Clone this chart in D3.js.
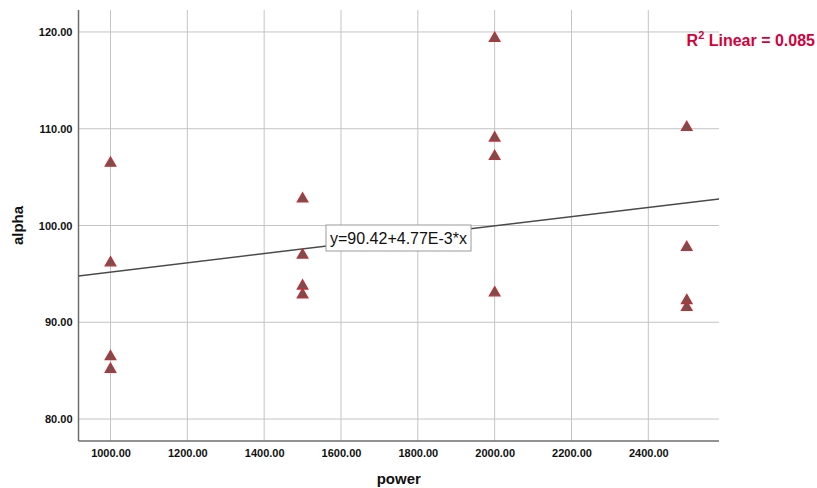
<!DOCTYPE html>
<html>
<head>
<meta charset="utf-8">
<script src="https://cdn.jsdelivr.net/npm/d3@7"></script>
<style>
  body { margin: 0; background: #fff; }
  svg text { font-family: "Liberation Sans", Arial, sans-serif; }
</style>
</head>
<body>
<div id="chart"></div>
<script>
// data
var powerValues = [1000, 1000, 1000, 1000, 1500, 1500, 1500, 1500, 2000, 2000, 2000, 2000, 2500, 2500, 2500, 2500];
var alphaValues = [106.5, 96.2, 86.5, 85.2, 102.8, 97.0, 93.8, 92.9, 119.4, 109.1, 107.2, 93.1, 110.2, 97.8, 92.3, 91.6];
var xTicks = [1000, 1200, 1400, 1600, 1800, 2000, 2200, 2400];
var yTicks = [80, 90, 100, 110, 120];
var fitIntercept = 90.42;
var fitSlope = 4.77e-3;
var fitLabel = "y=90.42+4.77E-3*x";
var r2Label = "0.085";

var width = 817, height = 488;
var margin = { top: 10, right: 98, bottom: 47, left: 78.5 };
var w = width - margin.left - margin.right;
var h = height - margin.top - margin.bottom;

var svg = d3.select('#chart').append('svg')
    .attr('width', width)
    .attr('height', height);

var xScale = d3.scaleLinear().domain([916.7, 2584]).range([0, w]);
var yScale = d3.scaleLinear().domain([77.73, 122.27]).range([h, 0]);

var g = svg.append('g')
    .attr('transform', 'translate(' + margin.left + ',' + margin.top + ')');

// grid lines
g.selectAll('.vgrid').data(xTicks).enter().append('line')
    .attr('class', 'vgrid')
    .attr('x1', function (d) { return xScale(d); })
    .attr('x2', function (d) { return xScale(d); })
    .attr('y1', 0).attr('y2', h)
    .attr('stroke', '#c4c4c4').attr('stroke-width', 1);
g.selectAll('.hgrid').data(yTicks).enter().append('line')
    .attr('class', 'hgrid')
    .attr('y1', function (d) { return yScale(d); })
    .attr('y2', function (d) { return yScale(d); })
    .attr('x1', 0).attr('x2', w)
    .attr('stroke', '#c4c4c4').attr('stroke-width', 1);

// axes
var xAxis = g.append('g')
    .attr('transform', 'translate(0,' + h + ')')
    .call(d3.axisBottom(xScale).tickValues(xTicks).tickSize(0).tickPadding(8).tickFormat(d3.format('.2f')));
var yAxis = g.append('g')
    .call(d3.axisLeft(yScale).tickValues(yTicks).tickSize(0).tickPadding(6).tickFormat(d3.format('.2f')));
[xAxis, yAxis].forEach(function (a) {
    a.select('.domain').attr('stroke', '#6e6e6e').attr('stroke-width', 1.5);
    a.selectAll('text')
        .attr('fill', '#111')
        .style('font-size', '11px')
        .style('font-weight', 'bold')
        .style('font-family', '"Liberation Sans", Arial, sans-serif');
});
xAxis.select('.domain').attr('d', 'M0,0H' + w);
yAxis.select('.domain').attr('d', 'M0,0V' + h);

// fit line
var lineData = xScale.domain().map(function (x) { return [x, fitIntercept + fitSlope * x]; });
g.append('path')
    .datum(lineData)
    .attr('fill', 'none')
    .attr('stroke', '#4a4a4a')
    .attr('stroke-width', 1.5)
    .attr('d', d3.line()
        .x(function (d) { return xScale(d[0]); })
        .y(function (d) { return yScale(d[1]); }));

// markers
var tri = d3.symbol().type(d3.symbolTriangle).size(48);
g.selectAll('.pt').data(powerValues).enter().append('path')
    .attr('class', 'pt')
    .attr('d', tri)
    .attr('transform', function (d, i) { return 'translate(' + xScale(d) + ',' + (yScale(alphaValues[i]) + 0.5) + ')'; })
    .attr('fill', '#74504f')
    .attr('stroke', '#bf3038')
    .attr('stroke-width', 1.3);

// equation box
var eq = g.append('g').attr('transform', 'translate(' + (326 - margin.left) + ',' + (225 - margin.top) + ')');
eq.append('rect')
    .attr('width', 145).attr('height', 26)
    .attr('fill', '#fff')
    .attr('stroke', '#9a9a9a');
eq.append('text')
    .attr('x', 72.5).attr('y', 19)
    .attr('text-anchor', 'middle')
    .style('font-size', '16px')
    .attr('fill', '#111')
    .text(fitLabel);

// R squared label
var r2 = svg.append('text')
    .attr('x', 815).attr('y', 46)
    .attr('text-anchor', 'end')
    .attr('fill', '#d4003c')
    .style('font-size', '16px')
    .style('font-weight', 'bold');
r2.append('tspan').text('R');
r2.append('tspan').attr('dy', -7).style('font-size', '11px').text('2');
r2.append('tspan').attr('dy', 7).text(' Linear = ' + r2Label);

// axis titles
svg.append('text')
    .attr('transform', 'translate(23,' + (margin.top + h / 2) + ') rotate(-90)')
    .attr('text-anchor', 'middle')
    .style('font-size', '15px')
    .style('font-weight', 'bold')
    .attr('fill', '#111')
    .text('alpha');
svg.append('text')
    .attr('x', margin.left + w / 2).attr('y', 484)
    .attr('text-anchor', 'middle')
    .style('font-size', '15px')
    .style('font-weight', 'bold')
    .attr('fill', '#111')
    .text('power');
</script>
</body>
</html>
